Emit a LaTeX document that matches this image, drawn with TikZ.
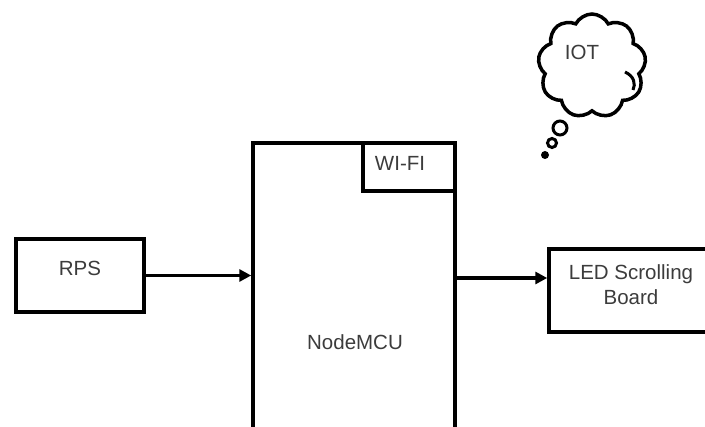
\documentclass[tikz,border=0pt]{standalone}
\usepackage{fontspec}
\setmainfont{Liberation Sans}
\usetikzlibrary{arrows.meta,shapes.symbols}
\definecolor{txt}{HTML}{3C3C3C}
\tikzset{
  x=1pt,y=-1pt,
  blk/.style={draw=black,line width=3.5pt,fill=none,inner sep=0pt},
  lbl/.style={text=txt,font=\fontsize{20.5}{25}\selectfont,align=center,inner sep=0pt},
  conn/.style={line width=3.2pt,-{Triangle[length=12pt,width=12pt]}},
}
\begin{document}
\begin{tikzpicture}
\useasboundingbox (0,0) rectangle (705,427);
\fill[white] (0,0) rectangle (705,427);
\clip (0,0) rectangle (705,427);
% blocks
\node[blk,minimum width=128,minimum height=73] (rps) at (80,275.5) {};
\node[lbl] at (80,268) {RPS};
\node[blk,minimum width=202,minimum height=320] (nodemcu) at (354,303) {};
\node[lbl] (nmcutxt) at (355,342) {NodeMCU};
\node[blk,minimum width=92,minimum height=48,anchor=north east] (wifi) at (nodemcu.north east) {};
\node[lbl] at (400,163) {WI-FI};
\node[blk,minimum width=164,minimum height=83] (led) at (631,290.5) {};
\node[lbl] at (631,285) {LED Scrolling\\Board};
% connectors
\draw[conn] (rps.east) -- (rps.east -| nodemcu.west);
\coordinate (ao) at (0,278);
\draw[conn] (nodemcu.east |- ao) -- (led.west |- ao);
% thought cloud
\node[cloud,draw=black,line width=3.5pt,cloud puffs=9,cloud puff arc=125,aspect=1.0,
  minimum width=108,minimum height=104,inner sep=0pt] (cloud) at (592,66) {};
\node[lbl] (iot) at (582,52) {IOT};
\draw[line width=3pt] (625,72) .. controls (634,76) and (636,84) .. (633,90);
\draw[line width=3pt] (560,128) circle (7);
\draw[line width=3pt] (552,143) circle (4.5);
\fill (545,155) circle (4);
\end{tikzpicture}
\end{document}
